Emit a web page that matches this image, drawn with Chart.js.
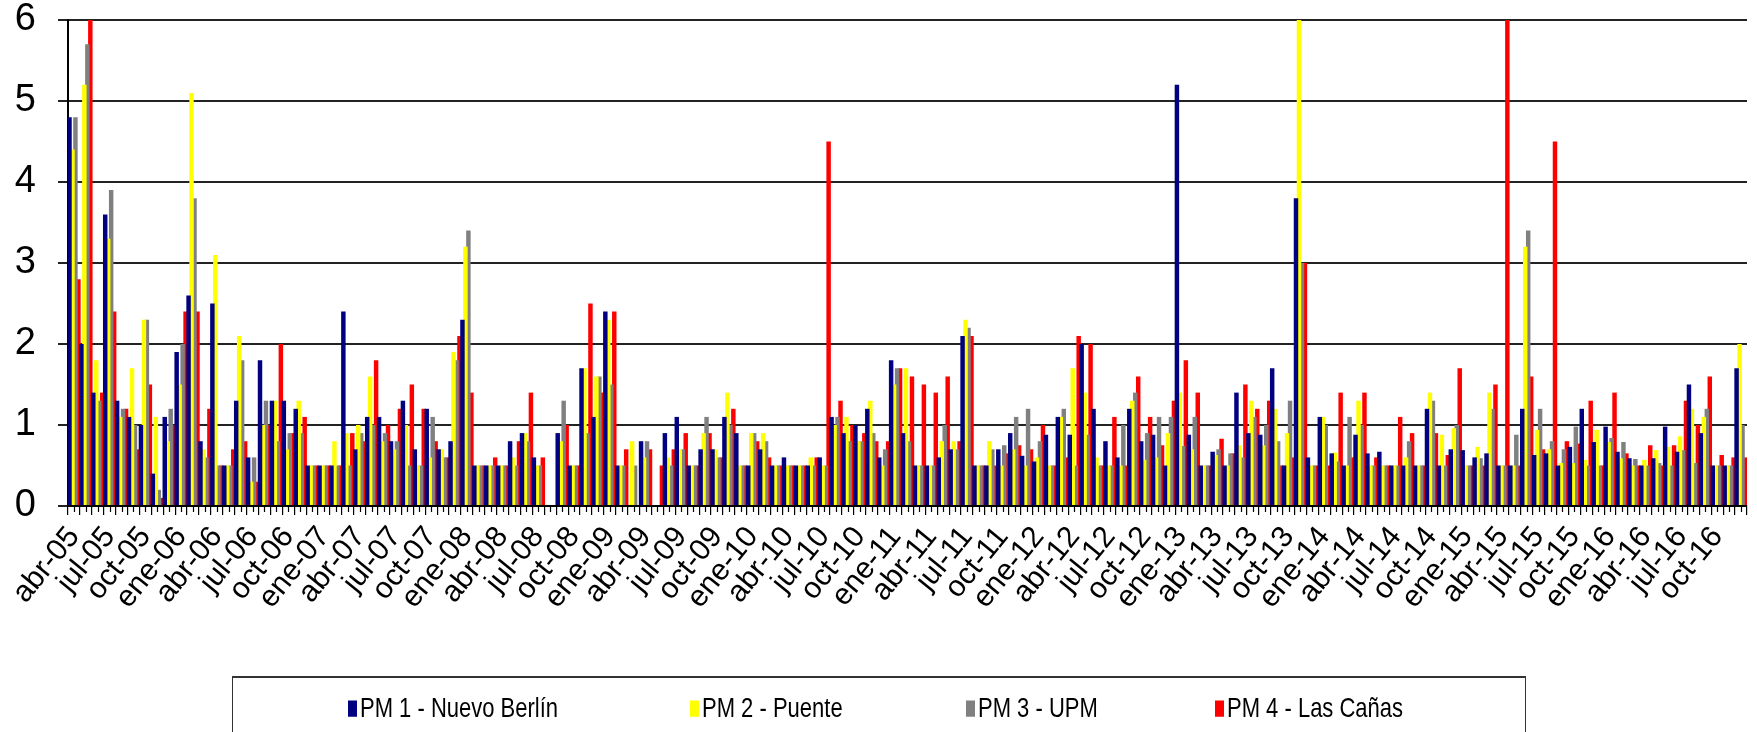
<!DOCTYPE html>
<html><head><meta charset="utf-8">
<script src="https://cdn.jsdelivr.net/npm/chart.js@4.4.1/dist/chart.umd.min.js"></script>
<style>
html,body{margin:0;padding:0;background:#fff;}
#wrap{position:relative;width:1757px;height:732px;overflow:hidden;background:#fff;}
#c{position:absolute;left:0;top:0;}
#legend{position:absolute;left:232px;top:676px;width:1294px;height:80px;border:1.5px solid #333;border-top:2px solid #333;box-sizing:border-box;font-family:"Liberation Sans",Arial,sans-serif;font-size:22px;color:#000;}
.item{position:absolute;top:17px;display:flex;align-items:center;white-space:nowrap;transform:scaleY(1.25);transform-origin:left center;}
.sw{width:9px;height:13px;margin-right:3px;display:inline-block;}
</style></head>
<body>
<div id="wrap">
<canvas id="c" width="1757" height="732"></canvas>
<div id="legend"></div>
</div>
<script>
// Month names (Spanish) and years used to build category labels
const monthNames = ['ene','feb','mar','abr','may','jun','jul','ago','sep','oct','nov','dic'];
const startMonth = 3;   // abr
const startYear = 2005;
const nMonths = 141;    // abr-05 .. dic-16

const seriesNames = ['PM 1 - Nuevo Berlín','PM 2 - Puente','PM 3 - UPM','PM 4 - Las Cañas'];
const seriesColors = ['#000080','#FFFF00','#808080','#FF0000'];

const pm1 = [4.8,2.0,1.4,3.6,1.3,1.1,1.0,0.4,1.1,1.9,2.6,0.8,2.5,0.5,1.3,0.6,1.8,1.3,1.3,1.2,0.5,0.5,0.5,2.4,0.7,1.1,1.1,0.8,1.3,0.7,1.2,0.7,0.8,2.3,0.5,0.5,0.5,0.8,0.9,0.6,null,0.9,0.5,1.7,1.1,2.4,0.5,null,0.8,null,0.9,1.1,0.5,0.7,0.7,1.1,0.9,0.5,0.7,0.5,0.6,0.5,0.5,0.6,1.1,0.9,1.0,1.2,0.6,1.8,0.9,0.5,0.5,0.6,0.7,2.1,0.5,0.5,0.7,0.9,0.62,0.55,0.88,1.1,0.88,2.0,1.2,0.8,0.6,1.2,0.8,0.88,0.5,5.2,0.88,0.5,0.67,0.5,1.4,0.9,0.88,1.7,0.5,3.8,0.6,1.1,0.65,0.5,0.88,0.65,0.67,0.5,0.5,0.5,1.2,0.5,0.7,0.69,0.6,0.65,0.5,0.5,1.2,0.63,0.65,0.5,0.73,1.2,0.79,0.98,0.67,0.59,0.5,0.59,0.98,0.67,1.5,0.9,0.5,0.5,1.7];
const pm2 = [4.4,5.2,1.8,3.3,1.1,1.7,2.3,1.1,0.8,1.5,5.1,0.7,3.1,0.5,2.1,0.3,1.0,1.3,0.7,1.3,0.5,0.5,0.8,0.9,1.0,1.6,0.8,0.7,1.0,0.5,0.6,0.7,1.9,3.2,0.5,0.5,0.5,0.6,0.9,0.5,null,0.8,0.5,1.7,1.6,2.3,0.5,0.8,0.6,null,0.6,0.7,0.5,0.9,0.7,1.4,0.5,0.9,0.9,0.5,0.5,0.5,0.6,0.5,1.0,1.1,0.8,1.3,0.5,1.5,1.7,0.5,0.5,0.8,0.8,2.3,0.5,0.8,0.5,0.7,0.5,0.6,0.5,1.1,1.7,1.4,0.6,0.5,0.5,1.3,0.57,0.6,0.9,1.4,0.7,0.5,0.63,0.5,0.75,1.3,0.75,1.2,0.9,6.0,0.5,1.1,0.66,0.5,1.3,0.5,0.5,0.5,0.6,0.5,1.4,0.88,0.96,0.5,0.73,1.4,0.5,0.5,3.2,0.94,0.7,0.53,0.53,0.57,0.94,0.79,0.59,0.5,0.57,0.69,0.73,0.86,1.2,1.1,0.5,0.5,2.0];
const pm3 = [4.8,5.7,1.3,3.9,1.2,1.0,2.3,0.2,1.2,2.0,3.8,0.6,0.5,0.5,1.8,0.6,1.3,0.8,0.9,0.9,0.5,0.5,0.5,0.5,0.9,1.0,0.9,0.8,0.5,0.5,1.1,0.6,1.8,3.4,0.5,0.5,0.5,0.5,0.8,0.5,null,1.3,0.5,0.9,1.6,1.5,0.5,0.5,0.8,null,0.5,0.7,0.5,1.1,0.6,1.0,0.5,0.9,0.8,0.5,0.5,0.5,0.5,0.5,1.1,0.8,0.8,0.9,0.7,1.7,0.8,0.5,0.5,1.0,0.7,2.2,0.5,0.7,0.75,1.1,1.2,0.8,0.5,1.2,0.5,0.88,0.5,0.5,1.0,1.4,0.9,1.1,1.1,0.74,1.1,0.5,0.7,0.65,0.6,1.1,1.0,0.8,1.3,3.0,0.5,1.0,0.55,1.1,1.0,0.5,0.5,0.5,0.8,0.5,1.3,0.5,1.0,0.5,0.59,1.2,0.5,0.88,3.4,1.2,0.8,0.7,0.98,0.5,0.5,0.84,0.79,0.58,0.5,0.53,0.5,0.69,0.53,1.2,0.5,0.5,1.0];
const pm4 = [2.8,6.0,1.4,2.4,1.2,0.7,1.5,0.1,1.0,2.4,2.4,1.2,0.5,0.7,0.8,0.3,1.0,2.0,0.9,1.1,0.5,0.5,0.5,0.9,0.8,1.8,1.0,1.2,1.5,1.2,0.8,0.6,2.1,1.4,0.5,0.6,0.5,0.8,1.4,0.6,null,1.0,0.5,2.5,1.4,2.4,0.7,null,0.7,0.5,0.7,0.9,0.5,0.9,0.6,1.2,0.5,0.8,0.6,0.5,0.5,0.5,0.6,4.5,1.3,1.0,0.9,0.8,0.8,1.7,1.6,1.5,1.4,1.6,0.8,2.1,0.5,0.5,0.65,0.75,0.7,1.0,0.5,0.6,2.1,2.0,0.5,1.1,0.5,1.6,1.1,0.75,1.3,1.8,1.4,0.5,0.83,0.65,1.5,1.2,1.3,0.5,0.6,3.0,0.5,0.5,1.4,0.6,1.4,0.6,0.5,1.1,0.9,0.5,0.9,0.63,1.7,0.5,0.5,1.5,6.0,0.5,1.6,0.7,4.5,0.8,0.77,1.3,0.5,1.4,0.65,0.5,0.75,0.5,0.75,1.3,1.0,1.6,0.63,0.6,0.6];
const yTicks = [0,1,2,3,4,5,6];

const labels = [];
for (let i = 0; i < nMonths; i++) {
  const m = (startMonth + i) % 12;
  const y = startYear + Math.floor((startMonth + i) / 12);
  labels.push(monthNames[m] + '-' + String(y % 100).padStart(2, '0'));
}

const series = [pm1, pm2, pm3, pm4];
const datasets = series.map((d, k) => ({
  label: seriesNames[k],
  data: d,
  backgroundColor: seriesColors[k],
  borderWidth: 0,
  categoryPercentage: 1.0,
  barPercentage: 1.5,
  grouped: true
}));

const midTicks = {
  id: 'midTicks',
  afterDraw(chart) {
    const xs = chart.scales.x;
    const ctx = chart.ctx;
    const b = chart.chartArea.bottom;
    ctx.save();
    ctx.strokeStyle = '#000';
    ctx.lineWidth = 1.2;
    for (let i = 0; i < labels.length; i++) {
      const x = Math.round(xs.getPixelForValue(i)) + 0.5;
      ctx.beginPath();
      ctx.moveTo(x, b);
      ctx.lineTo(x, b + 6);
      ctx.stroke();
    }
    ctx.restore();
  }
};

// Legend (HTML)
const legendPos = [115, 457, 733, 982];
const lg = document.getElementById('legend');
seriesNames.forEach((n, k) => {
  const it = document.createElement('div');
  it.className = 'item';
  it.style.left = legendPos[k] + 'px';
  const sw = document.createElement('span');
  sw.className = 'sw';
  sw.style.background = seriesColors[k];
  it.appendChild(sw);
  const t = document.createElement('span');
  t.textContent = n;
  it.appendChild(t);
  lg.appendChild(it);
});

new Chart(document.getElementById('c'), {
  type: 'bar',
  data: { labels: labels, datasets: datasets },
  plugins: [midTicks],
  options: {
    responsive: false,
    animation: false,
    layout: { padding: { top: 20, right: 10, left: 0, bottom: 0 } },
    plugins: { legend: { display: false }, tooltip: { enabled: false } },
    scales: {
      x: {
        offset: true,
        grid: { display: true, drawOnChartArea: false, drawTicks: true, tickLength: 9, color: '#000', lineWidth: 1.2, offset: true },
        border: { display: true, color: '#000', width: 2 },
        ticks: {
          autoSkip: false,
          maxRotation: 51, minRotation: 51,
          padding: 5,
          color: '#000',
          font: { family: '"Liberation Sans", Arial, sans-serif', size: 30 },
          callback: function(v, i) { return i % 3 === 0 ? labels[i] : ''; }
        },
        afterFit: function(s) { s.height = 226; s.paddingLeft = 0; s.paddingRight = 0; }
      },
      y: {
        min: 0, max: 6,
        afterBuildTicks: function(s) { s.ticks = yTicks.map(v => ({ value: v })); },
        grid: { color: '#222', lineWidth: 2, tickLength: 10, drawTicks: true },
        border: { display: true, color: '#000', width: 2 },
        ticks: {
          color: '#000',
          padding: 22,
          font: { family: '"Liberation Sans", Arial, sans-serif', size: 38 }
        },
        afterFit: function(s) { s.width = 68; s.paddingTop = 0; s.paddingBottom = 0; }
      }
    }
  }
});
</script>
</body></html>
